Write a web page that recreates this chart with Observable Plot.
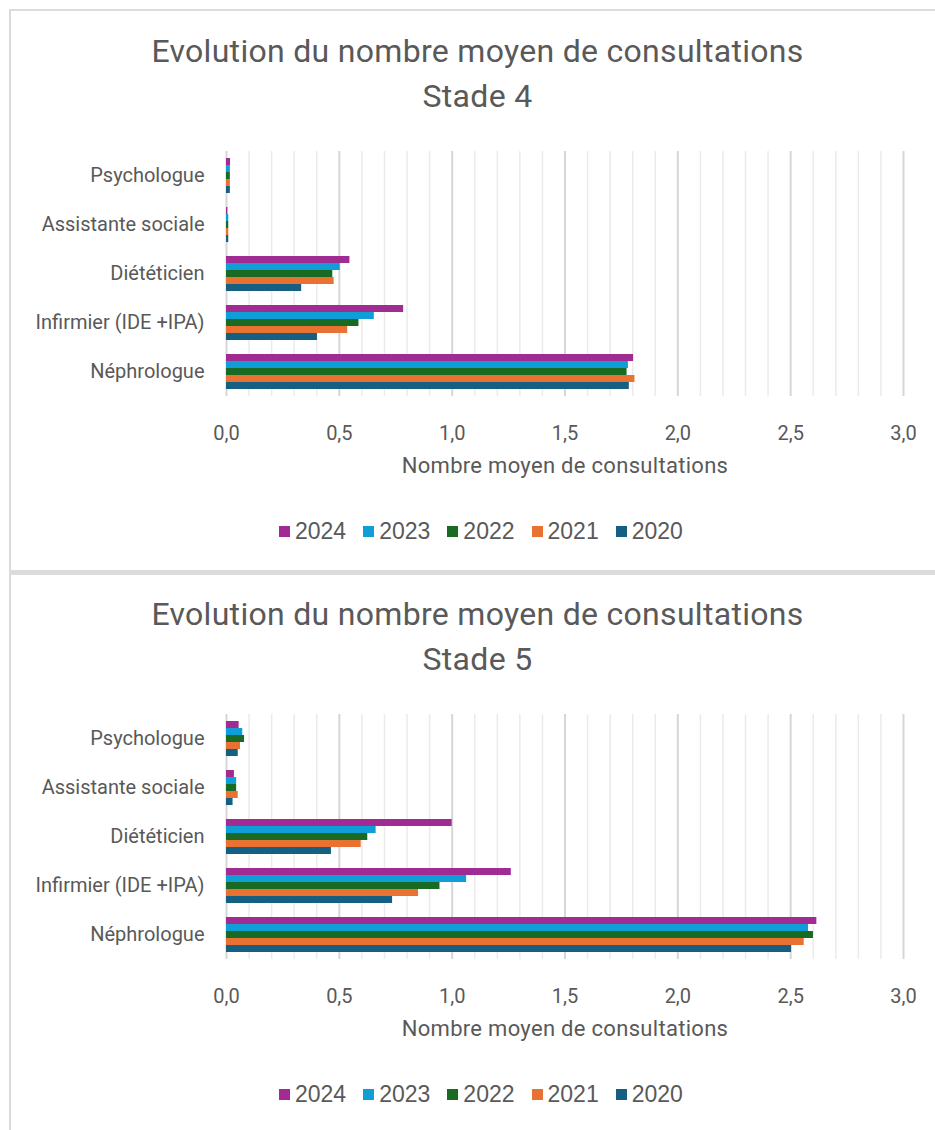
<!DOCTYPE html>
<html>
<head>
<meta charset="utf-8">
<script src="https://cdn.jsdelivr.net/npm/d3@7"></script>
<script src="https://cdn.jsdelivr.net/npm/@observablehq/plot@0.6"></script>
<style>
  html, body { margin: 0; padding: 0; background: #fff; overflow: hidden; }
  body { width: 935px; height: 1130px; position: relative; font-family: Roboto, sans-serif; color: #595959; }
  .vline { position: absolute; left: 9px; top: 9px; width: 2px; height: 1121px; background: #dadada; }
  .hline { position: absolute; left: 9px; width: 926px; background: #dcdcdc; }
  .title { position: absolute; left: 10px; width: 935px; text-align: center; font-size: 32px; letter-spacing: 0.3px; line-height: 45px; color: #595959; }
  .chart { position: absolute; left: 0; }
  .legend { position: absolute; left: 279px; display: flex; align-items: center; font-family: "Liberation Sans", Arial, sans-serif; font-size: 23px; color: #595959; }
  .legend .item { display: flex; align-items: center; margin-right: 17px; }
  .legend .sw { width: 11px; height: 11px; margin-right: 5px; }
</style>
</head>
<body>
<div class="vline"></div>
<div class="hline" style="top:9px;height:2px"></div>
<div class="hline" style="top:570px;height:5px"></div>
<div id="root"></div>
<script>
const categories = ["Psychologue", "Assistante sociale", "Diététicien", "Infirmier (IDE +IPA)", "Néphrologue"];
const years = ["2024", "2023", "2022", "2021", "2020"];
const colors = ["#A02B93", "#0F9ED5", "#196B24", "#E97132", "#156082"];
const majorTicks = [0, 0.5, 1, 1.5, 2, 2.5, 3];
const minorTicks = [0.1, 0.2, 0.3, 0.4, 0.6, 0.7, 0.8, 0.9, 1.1, 1.2, 1.3, 1.4, 1.6, 1.7, 1.8, 1.9, 2.1, 2.2, 2.3, 2.4, 2.6, 2.7, 2.8, 2.9];
const xLabel = "Nombre moyen de consultations";

// Stade 4 — values per category (Psychologue, Assistante sociale, Diététicien, Infirmier, Néphrologue)
const stade4_2024 = [0.018, 0.006, 0.547, 0.785, 1.804];
const stade4_2023 = [0.017, 0.010, 0.504, 0.655, 1.781];
const stade4_2022 = [0.017, 0.010, 0.471, 0.587, 1.775];
const stade4_2021 = [0.017, 0.010, 0.477, 0.537, 1.810];
const stade4_2020 = [0.017, 0.010, 0.333, 0.403, 1.785];

// Stade 5
const stade5_2024 = [0.056, 0.035, 1.000, 1.262, 2.616];
const stade5_2023 = [0.072, 0.045, 0.663, 1.064, 2.579];
const stade5_2022 = [0.080, 0.045, 0.626, 0.946, 2.601];
const stade5_2021 = [0.062, 0.052, 0.597, 0.851, 2.560];
const stade5_2020 = [0.052, 0.029, 0.465, 0.736, 2.504];

const panels = [
  {title: ["Evolution du nombre moyen de consultations", "Stade 4"], series: [stade4_2024, stade4_2023, stade4_2022, stade4_2021, stade4_2020], offset: 0},
  {title: ["Evolution du nombre moyen de consultations", "Stade 5"], series: [stade5_2024, stade5_2023, stade5_2022, stade5_2021, stade5_2020], offset: 563}
];

const fmt = d => d.toFixed(1).replace(".", ",");
const root = document.getElementById("root");

for (const p of panels) {
  const rows = [];
  categories.forEach((c, i) => years.forEach((y, j) => rows.push({category: c, year: y, value: p.series[j][i]})));

  const t = document.createElement("div");
  t.className = "title";
  t.style.top = (29 + p.offset) + "px";
  t.innerHTML = p.title.join("<br>");
  root.appendChild(t);

  const chart = Plot.plot({
    width: 935,
    height: 360,
    marginLeft: 226,
    marginRight: 32,
    marginTop: 20,
    marginBottom: 93,
    style: {fontFamily: "Roboto, sans-serif", color: "#595959", background: "transparent", overflow: "visible"},
    x: {domain: [0, 3]},
    fy: {domain: categories, padding: 0},
    y: {domain: years, axis: null, paddingInner: 0, paddingOuter: 0.93},
    color: {domain: years, range: colors},
    marks: [
      Plot.ruleX(minorTicks, {stroke: "#ebebeb", strokeWidth: 1.5}),
      Plot.ruleX(majorTicks, {stroke: "#d6d6d6", strokeWidth: 2}),
      Plot.barX(rows, {x: "value", y: "year", fy: "category", fill: "year"}),
      Plot.axisFy({anchor: "left", tickSize: 0, tickPadding: 22, fontSize: 20, label: null}),
      Plot.axisX({ticks: majorTicks, tickFormat: fmt, tickSize: 0, tickPadding: 29, fontSize: 20, label: null}),
      Plot.axisX({ticks: [], tickSize: 0, fontSize: 22, label: xLabel, labelAnchor: "center", labelArrow: "none", labelOffset: 76})
    ]
  });
  chart.classList.add("chart");
  chart.style.top = (130 + p.offset) + "px";
  chart.querySelectorAll("text").forEach(el => { if (el.textContent === xLabel) el.style.letterSpacing = "0.3px"; });
  root.appendChild(chart);

  const lg = document.createElement("div");
  lg.className = "legend";
  lg.style.top = (518 + p.offset) + "px";
  years.forEach((y, j) => {
    const it = document.createElement("div");
    it.className = "item";
    it.innerHTML = `<span class="sw" style="background:${colors[j]}"></span><span>${y}</span>`;
    lg.appendChild(it);
  });
  root.appendChild(lg);
}
</script>
</body>
</html>
